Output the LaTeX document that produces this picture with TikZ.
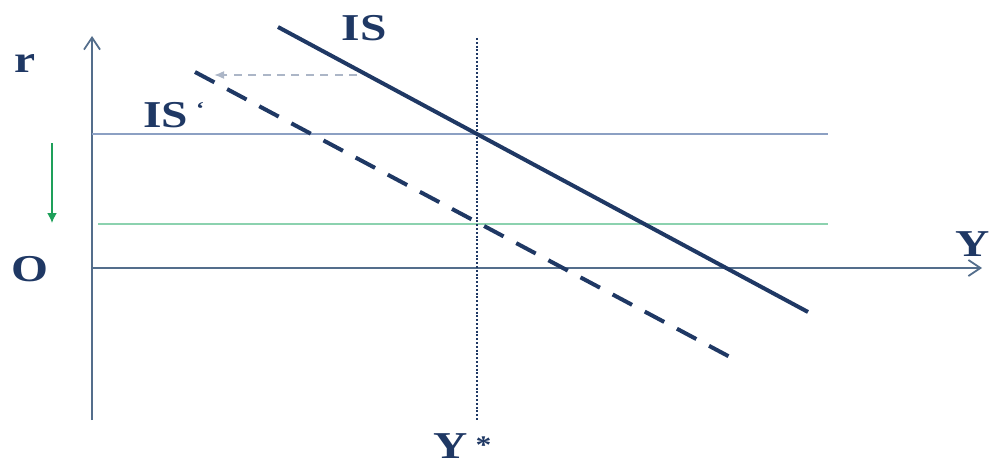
\documentclass[tikz,border=0pt]{standalone}
\usepackage{fontspec}
\setmainfont{Liberation Serif}
\usetikzlibrary{arrows.meta}

\begin{document}
\begin{tikzpicture}[x=0.25mm,y=-0.25mm]
% 991 x 465, IS curve shifting left
\useasboundingbox (0,0) rectangle (991,465);
\definecolor{isblue}{RGB}{31,56,100}
\definecolor{axisgray}{RGB}{84,110,140}
\definecolor{levelblue}{RGB}{140,160,195}
\definecolor{levelgreen}{RGB}{140,210,175}
\definecolor{arrowgreen}{RGB}{30,160,90}
\tikzset{
  axis/.style={draw=axisgray,line width=0.45mm,-{Straight Barb[length=3mm,width=4mm]}},
  level/.style={line width=0.4mm},
  lbl/.style={text=isblue,font=\fontsize{27}{30}\selectfont\bfseries,inner sep=0pt,xscale=1.25}
}
% axes
\coordinate (orig) at (92,268);
\coordinate (rtop) at (92,36);
\coordinate (rbot) at (92,420);
\coordinate (yend) at (982,268);
\path[axis] (rbot) -- (rtop);
\path[axis] (orig) -- (yend);
% interest rate levels
\coordinate (rhi) at (92,134);
\coordinate (rhiend) at (828,134);
\coordinate (rlo) at (98,224);
\coordinate (rloend) at (828,224);
\path[draw=levelblue,level] (rhi) -- (rhiend);
\path[draw=levelgreen,level] (rlo) -- (rloend);
% full employment output
\coordinate (ystartop) at (477,38);
\coordinate (ystarbot) at (477,420);
\path[draw=isblue,line width=0.3mm,dash pattern=on 0.5mm off 0.45mm] (ystartop) -- (ystarbot);
% IS and IS'
\coordinate (isa) at (278,27);
\coordinate (isb) at (808,312);
\coordinate (isqa) at (195,72);
\coordinate (isqb) at (730,357);
\path[draw=isblue,line width=1mm] (isa) -- (isb);
\path[draw=isblue,line width=1mm,dash pattern=on 5.5mm off 3.6mm] (isqa) -- (isqb);
% shift arrows
\coordinate (shfrom) at (357,75);
\coordinate (shto) at (214,75);
\path[draw=levelblue!70!gray!70,line width=0.4mm,dash pattern=on 2mm off 1.6mm,-{Latex[length=2.5mm,width=2mm]}] (shfrom) -- (shto);
\coordinate (dnfrom) at (52,143);
\coordinate (dnto) at (52,223);
\path[draw=arrowgreen,line width=0.4mm,-{Latex[length=2.5mm,width=2.5mm]}] (dnfrom) -- (dnto);
% labels
\node[lbl] (rlab) at (25,64) {r};
\node[lbl] (olab) at (30,269) {O};
\node[lbl] (islab) at (364,28) {IS};
\node[lbl,anchor=west] (isqlab) at (143,115) {IS\,\raisebox{0.7ex}{\fontsize{14}{14}\selectfont `}};
\node[lbl] (ylab) at (973,244) {Y};
\node[lbl,anchor=west] (ystarlab) at (433,446) {Y\,\raisebox{0.3ex}{\fontsize{18}{18}\selectfont *}};
\end{tikzpicture}
\end{document}
